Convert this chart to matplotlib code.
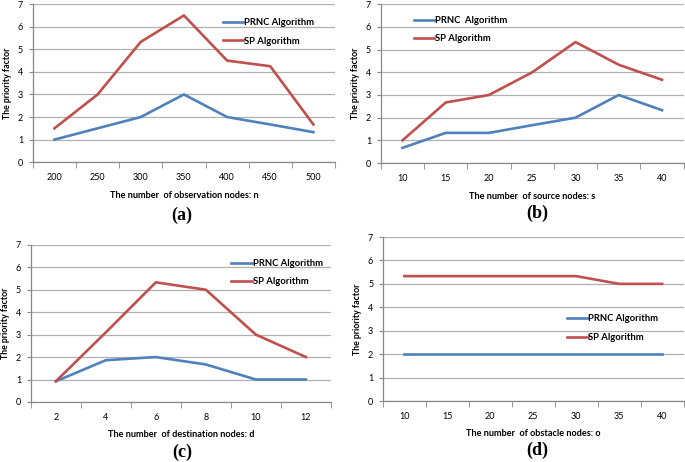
import numpy as np
import matplotlib.pyplot as plt

plt.rcParams['font.family'] = ['Lato', 'DejaVu Sans']

# datos de los cuatro paneles
obs_nodes = ['200', '250', '300', '350', '400', '450', '500']
prnc_a = [1.0, 1.5, 2.0, 3.0, 2.0, 1.67, 1.33]
sp_a = [1.5, 3.0, 5.33, 6.5, 4.5, 4.25, 1.67]

src_nodes = ['10', '15', '20', '25', '30', '35', '40']
prnc_b = [0.67, 1.33, 1.33, 1.67, 2.0, 3.0, 2.33]
sp_b = [1.0, 2.67, 3.0, 4.0, 5.33, 4.33, 3.67]

dst_nodes = ['2', '4', '6', '8', '10', '12']
prnc_c = [0.92, 1.86, 2.0, 1.67, 1.0, 1.0]
sp_c = [0.92, 3.1, 5.33, 5.0, 3.0, 2.0]

obst_nodes = ['10', '15', '20', '25', '30', '35', '40']
prnc_d = [2.0, 2.0, 2.0, 2.0, 2.0, 2.0, 2.0]
sp_d = [5.33, 5.33, 5.33, 5.33, 5.33, 5.0, 5.0]

BLUE = '#4F81BD'
RED = '#C0504D'

fig = plt.figure(figsize=(6.85, 4.62), dpi=100)

# rect, categorias, series, etiqueta x, letra (x, y en px), leyenda
panels = [
    ([0.048, 0.649, 0.441, 0.342], obs_nodes, prnc_a, sp_a,
     'The number  of observation nodes: n', '(a)', (182, 215), 'PRNC Algorithm', (0.60, 0.965)),
    ([0.556, 0.647, 0.442, 0.344], src_nodes, prnc_b, sp_b,
     'The number  of source nodes: s', '(b)', (537, 213), 'PRNC  Algorithm', (0.08, 0.98)),
    ([0.045, 0.130, 0.438, 0.340], dst_nodes, prnc_c, sp_c,
     'The number  of destination nodes: d', '(c)', (182, 452), 'PRNC Algorithm', (0.64, 0.965)),
    ([0.559, 0.132, 0.439, 0.355], obst_nodes, prnc_d, sp_d,
     'The number  of obstacle nodes: o', '(d)', (537, 450), 'PRNC Algorithm', (0.583, 0.58)),
]

W, H = 685, 462
for rect, cats, prnc, sp, xlab, tag, tag_xy, prnc_lab, leg_pos in panels:
    ax = fig.add_axes(rect)
    x = np.arange(len(cats))
    ax.plot(x, prnc, color=BLUE, lw=1.9, label=prnc_lab)
    ax.plot(x, sp, color=RED, lw=1.9, label='SP Algorithm')

    ax.set_xlim(-0.5, len(cats) - 0.5)
    ax.set_ylim(0, 7)
    ax.set_yticks(range(8))
    ax.set_xticks(x)
    ax.set_xticklabels(cats)
    ax.set_xticks(np.arange(len(cats) + 1) - 0.5, minor=True)
    ax.tick_params(axis='x', which='major', length=0, pad=8, labelsize=6.5)
    ax.tick_params(axis='x', which='minor', length=4, color='#888888', direction='out')
    ax.tick_params(axis='y', length=3, color='#888888', labelsize=6.5, pad=4)

    ax.grid(axis='y', color='#B0B0B0', lw=0.9)
    ax.set_axisbelow(True)
    for s in ['top', 'right']:
        ax.spines[s].set_visible(False)
    for s in ['left', 'bottom']:
        ax.spines[s].set_color('#888888')
        ax.spines[s].set_linewidth(0.9)

    ax.set_ylabel('The priority factor', fontsize=6.3, fontweight='bold', labelpad=4)
    ax.set_xlabel(xlab, fontsize=6.6, fontweight='bold', labelpad=6)
    fig.text(tag_xy[0] / W, 1 - tag_xy[1] / H, tag, ha='center', va='center',
             fontsize=13, fontweight='bold', family='Liberation Serif')

    ax.legend(loc='upper left', bbox_to_anchor=leg_pos, frameon=False,
              handlelength=2.2, handletextpad=0.1, labelspacing=1.0,
              prop={'weight': 'bold', 'size': 6.8})

plt.savefig('out.png', dpi=100)
